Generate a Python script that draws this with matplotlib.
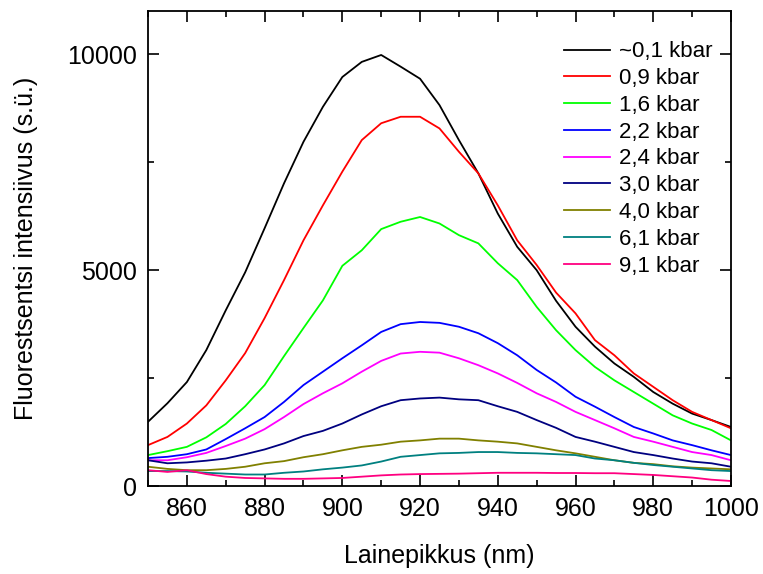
import matplotlib.pyplot as plt
import numpy as np
from matplotlib.ticker import MultipleLocator

plt.rcParams['font.family'] = ['Liberation Sans', 'DejaVu Sans']

# wavelength grid (nm) and intensities every 5 nm
wl = np.arange(850, 1001, 5)

p01 = [1490, 1920, 2410, 3150, 4070, 4950, 5970, 7010, 7970, 8780, 9470, 9820, 9980,
       9710, 9430, 8820, 8010, 7240, 6310, 5540, 5000, 4290, 3690, 3230, 2840, 2530,
       2180, 1910, 1680, 1530, 1370]
p09 = [950, 1140, 1450, 1870, 2450, 3080, 3890, 4770, 5690, 6500, 7280, 8010, 8400,
       8550, 8550, 8280, 7740, 7240, 6500, 5690, 5120, 4480, 4000, 3380, 3030, 2610,
       2300, 1990, 1720, 1530, 1340]
p16 = [720, 810, 910, 1130, 1440, 1850, 2340, 3010, 3660, 4300, 5100, 5460, 5950,
       6120, 6230, 6080, 5810, 5620, 5160, 4770, 4150, 3610, 3150, 2760, 2450, 2180,
       1910, 1640, 1450, 1300, 1060]
p22 = [650, 680, 740, 850, 1090, 1340, 1600, 1950, 2340, 2650, 2960, 3260, 3570,
       3750, 3800, 3780, 3690, 3540, 3310, 3030, 2690, 2400, 2070, 1840, 1600, 1370,
       1220, 1060, 950, 830, 720]
p24 = [600, 600, 670, 770, 930, 1100, 1320, 1600, 1900, 2150, 2380, 2650, 2900,
       3070, 3110, 3090, 2960, 2800, 2610, 2390, 2150, 1950, 1720, 1530, 1340, 1140,
       1030, 910, 790, 720, 600]
p30 = [600, 530, 550, 590, 640, 740, 850, 990, 1160, 1280, 1450, 1660, 1850,
       1990, 2030, 2050, 2010, 1990, 1850, 1720, 1530, 1350, 1140, 1030, 910, 790,
       720, 640, 570, 530, 450]
p40 = [450, 400, 370, 370, 400, 450, 530, 580, 670, 740, 830, 910, 960,
       1030, 1060, 1100, 1100, 1060, 1030, 990, 910, 830, 760, 680, 600, 540,
       510, 460, 430, 410, 390]
p61 = [350, 350, 340, 310, 290, 270, 270, 310, 340, 390, 430, 480, 570,
       680, 720, 760, 770, 790, 790, 770, 760, 740, 720, 640, 600, 540,
       490, 450, 410, 370, 350]
p91 = [370, 330, 370, 280, 220, 190, 180, 170, 170, 180, 190, 220, 250,
       270, 280, 285, 290, 300, 310, 310, 310, 305, 305, 300, 300, 280,
       260, 230, 200, 150, 120]

series = [p01, p09, p16, p22, p24, p30, p40, p61, p91]
labels = ['~0,1 kbar', '0,9 kbar', '1,6 kbar', '2,2 kbar', '2,4 kbar',
          '3,0 kbar', '4,0 kbar', '6,1 kbar', '9,1 kbar']
colors = ['#000000', '#ff0000', '#00ff00', '#0000ff', '#ff00ff',
          '#000080', '#808000', '#008080', '#ff0080']

fig = plt.figure(figsize=(7.63, 5.74), dpi=100)
ax = fig.add_axes([0.194, 0.153, 0.764, 0.828])

for y, lab, c in zip(series, labels, colors):
    ax.plot(wl, y, color=c, lw=1.3, label=lab)

ax.set_xlim(850, 1000)
ax.set_ylim(0, 11000)
ax.xaxis.set_major_locator(MultipleLocator(20))
ax.xaxis.set_minor_locator(MultipleLocator(10))
ax.yaxis.set_major_locator(MultipleLocator(5000))
ax.yaxis.set_minor_locator(MultipleLocator(2500))
ax.tick_params(which='both', direction='in', top=True, right=True,
               labelsize=18, width=1.2, pad=8)
ax.tick_params(which='major', length=8)
ax.tick_params(which='minor', length=4)
for s in ax.spines.values():
    s.set_linewidth(1.3)

ax.set_xlabel('Lainepikkus (nm)', fontsize=18, labelpad=16)
ax.set_ylabel('Fluorestsentsi intensiivus (s.ü.)', fontsize=18, labelpad=21)

ax.legend(loc='upper right', bbox_to_anchor=(0.969, 0.936), frameon=False,
          fontsize=16, handlelength=2.1, handletextpad=0.4, labelspacing=0.26,
          borderpad=0, borderaxespad=0)

fig.savefig('out.png', dpi=100)
